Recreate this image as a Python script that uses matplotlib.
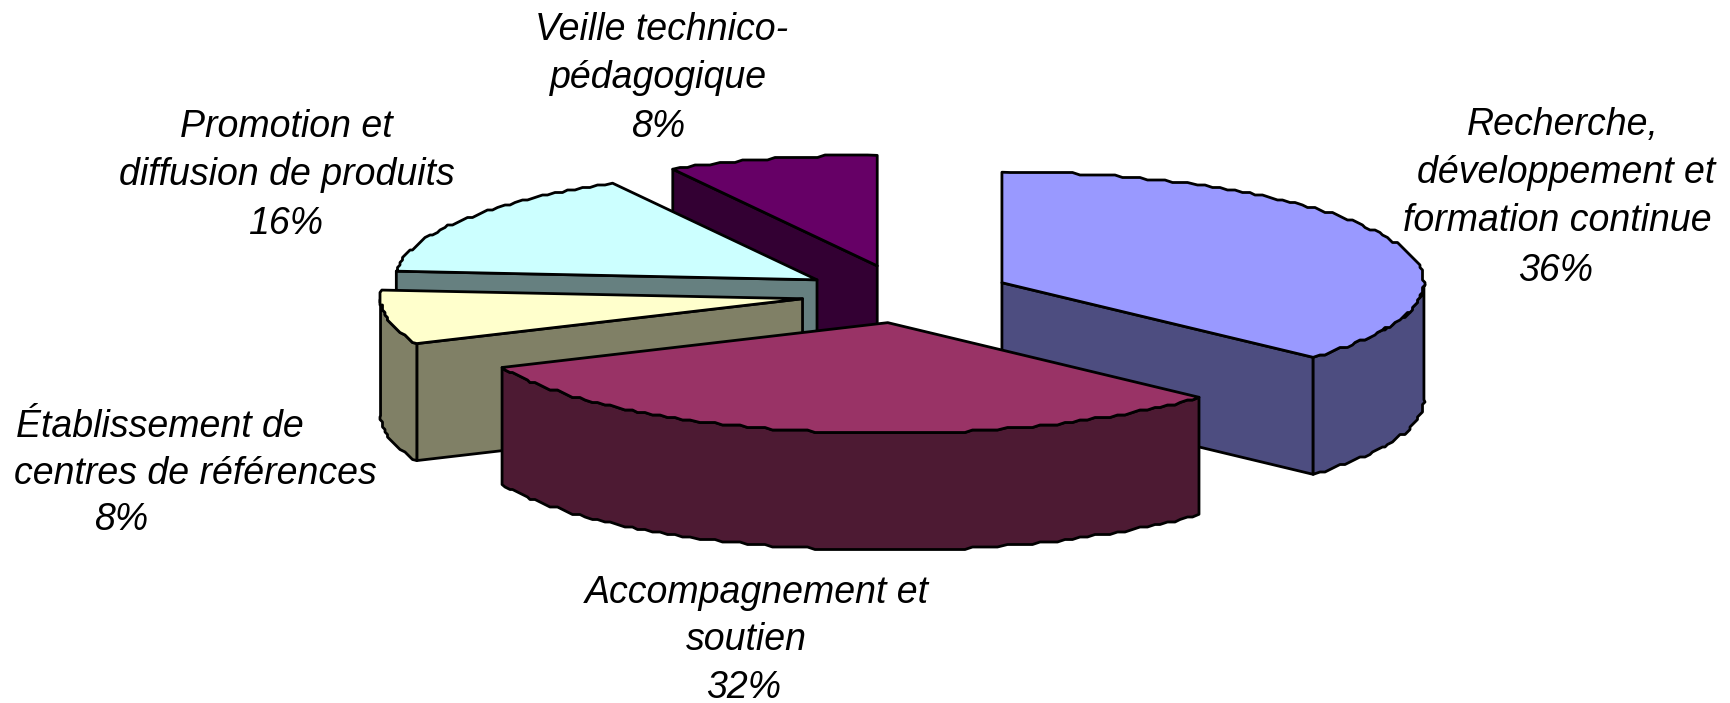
#!/usr/bin/env python3
import math
import matplotlib
matplotlib.use("Agg")
import matplotlib.pyplot as plt
from matplotlib.patches import Polygon

labels = [
    ["Recherche,", "développement et", "formation continue"],
    ["Accompagnement et", "soutien"],
    ["Établissement de", "centres de références"],
    ["Promotion et", "diffusion de produits"],
    ["Veille technico-", "pédagogique"],
]
percents = [36, 32, 8, 16, 8]
# shares, a little off the printed percents
values = [36.8, 31.55, 7.9, 15.7, 8.05]
top_colors = ["#9999FF", "#993366", "#FFFFCC", "#CCFFFF", "#660066"]
side_colors = ["#4D4D80", "#4D1A33", "#808066", "#668080", "#330033"]

# text placement in picture pixels, one entry per line (the percent is last)
label_x = [
    [1563, 1566, 1557, 1556],
    [757, 746, 744],
    [160, 195, 121],
    [286, 287, 286],
    [662, 659, 658],
]
label_y = [
    [135, 183, 231, 281],
    [603, 650, 698],
    [437, 484, 530],
    [137, 185, 234],
    [40, 88, 137],
]
# small per-slice shifts on top of the explode, the original has some perspective
nudge = [(-1, -2), (0, -1), (3, -2), (2, -1), (-1, -3)]

W, H = 1731, 703
CX, CY = 905, 296     # pie centre before exploding
RX, RY = 422, 110.5   # ellipse radii
DEPTH = 117
EXPLODE = 107
STEP = 1.2            # degrees along the rim
GRID = 2.5            # the rim of the original is stair-stepped
LW = 2.0


def rim_point(cx, cy, ang):
    # ang is clockwise from the top
    a = math.radians(ang)
    return cx + RX * math.sin(a), cy - RY * math.cos(a)


def arc(cx, cy, a0, a1):
    n = max(1, int(math.ceil((a1 - a0) / STEP)))
    pts = [rim_point(cx, cy, a0 + (a1 - a0) * i / n) for i in range(n + 1)]
    inner = [(round(x / GRID) * GRID, round(y / GRID) * GRID) for x, y in pts[1:-1]]
    return [pts[0]] + inner + [pts[-1]]


def draw_slice(ax, a0, a1, top, side, shift, order):
    mid = math.radians((a0 + a1) / 2)
    cx = CX + EXPLODE * math.sin(mid) + shift[0]
    cy = CY - EXPLODE * RY / RX * math.cos(mid) + shift[1]
    kw = dict(edgecolor="black", linewidth=LW, joinstyle="round", zorder=order)

    # cut faces, only those turned towards the viewer
    for ang, show in ((a0, math.sin(math.radians(a0)) < -1e-6),
                      (a1, math.sin(math.radians(a1)) > 1e-6)):
        if not show:
            continue
        x, y = rim_point(cx, cy, ang)
        ax.add_patch(Polygon([(cx, cy), (x, y), (x, y + DEPTH), (cx, cy + DEPTH)],
                             facecolor=side, **kw))
    # outer rim, only the front half shows
    front0, front1 = max(a0, 90), min(a1, 270)
    if front1 > front0:
        pts = arc(cx, cy, front0, front1)
        low = [(x, y + DEPTH) for x, y in reversed(pts)]
        ax.add_patch(Polygon(pts + low, facecolor=side, **kw))
    ax.add_patch(Polygon([(cx, cy)] + arc(cx, cy, a0, a1), facecolor=top, **kw))


fig = plt.figure(figsize=(W / 100, H / 100), dpi=100)
ax = fig.add_axes([0, 0, 1, 1])
ax.set_xlim(0, W)
ax.set_ylim(H, 0)
ax.axis("off")

# start/end angles of each slice
total = float(sum(values))
angles = []
run = 0.0
for v in values:
    angles.append((run * 360 / total, (run + v) * 360 / total))
    run += v

# painter's order: back slices first
paint = [4, 3, 2, 0, 1]
for order, i in enumerate(paint):
    draw_slice(ax, angles[i][0], angles[i][1], top_colors[i], side_colors[i],
               nudge[i], order + 1)

for name, p, xs, ys in zip(labels, percents, label_x, label_y):
    lines = name + [f"{p}%"]
    for line, x, y in zip(lines, xs, ys):
        ax.text(x, y, line, ha="center", va="baseline",
                family="Liberation Sans", style="italic", fontsize=27,
                color="black", zorder=20)

fig.savefig("out.png", dpi=100)
